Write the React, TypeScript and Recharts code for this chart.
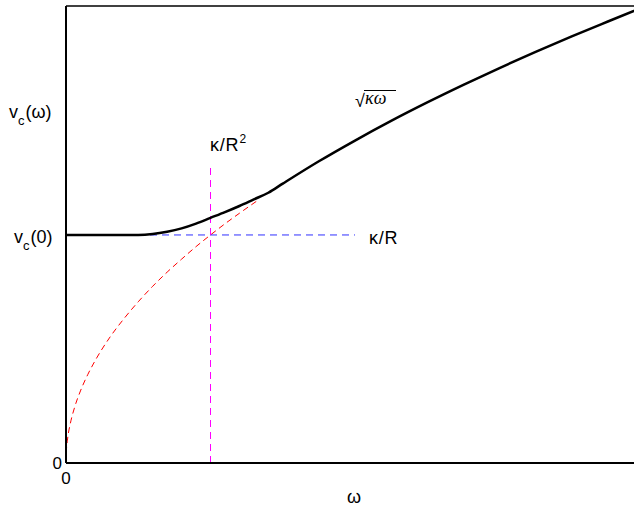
import React from "react";
import { LineChart, Line, XAxis, YAxis, ReferenceLine } from "recharts";

// v_c(omega) curve (solid black)
const omegaVc = [0, 0.5, 0.6, 0.7, 0.8, 0.9, 1.0, 1.1, 1.2, 1.3, 1.4, 1.5, 1.75, 2.0, 2.25, 2.5, 2.75, 3.0, 3.25, 3.5, 3.75, 4.0];
const vcValues = [1, 1, 1.004, 1.014, 1.029, 1.05, 1.075, 1.1, 1.127, 1.156, 1.185, 1.225, 1.323, 1.414, 1.5, 1.581, 1.658, 1.732, 1.803, 1.871, 1.936, 2.0];

// sqrt(kappa*omega) asymptote (red dashed)
const omegaSqrt = [0, 0.002, 0.01, 0.03, 0.06, 0.1, 0.15, 0.2, 0.3, 0.4, 0.5, 0.6, 0.7, 0.8, 0.9, 1.0, 1.1, 1.2, 1.33];
const sqrtValues = [0, 0.045, 0.1, 0.173, 0.245, 0.316, 0.387, 0.447, 0.548, 0.632, 0.707, 0.775, 0.837, 0.894, 0.949, 1.0, 1.049, 1.095, 1.153];

// kappa/R level (blue dashed) and kappa/R^2 marker (magenta dashed)
const levelOmega = [0, 2.0];
const levelValue = [1, 1];
const markerOmega = [1, 1];
const markerValue = [0, 1.298];

const yTicks = [0, 1];
const xTicks = [0];

const toPoints = (xs: number[], ys: number[]) => xs.map((x, i) => ({ x, y: ys[i] }));

const vcData = toPoints(omegaVc, vcValues);
const sqrtData = toPoints(omegaSqrt, sqrtValues);
const levelData = toPoints(levelOmega, levelValue);
const markerData = toPoints(markerOmega, markerValue);

const FONT = '"Liberation Sans", Arial, Helvetica, sans-serif';

function YTick(props: any) {
  const { x, y, payload } = props;
  if (payload.value === 0) {
    return (
      <text x={x - 4} y={y + 6} textAnchor="end" fontSize={17} fontFamily={FONT} fill="#000">
        0
      </text>
    );
  }
  return (
    <text x={x - 52} y={y + 8} fontSize={18} fontFamily={FONT} fill="#000">
      v
      <tspan fontSize={13} dy={7}>c</tspan>
      <tspan dy={-7} dx={1}>(0)</tspan>
    </text>
  );
}

function XTick(props: any) {
  const { x, y } = props;
  return (
    <text x={x} y={y + 21} textAnchor="middle" fontSize={17} fontFamily={FONT} fill="#000">
      0
    </text>
  );
}

export default function App() {
  return (
    <div style={{ position: "absolute", left: 0, top: 0, width: 634, height: 509, overflow: "hidden", background: "#fff" }}>
      <LineChart width={660} height={509} data={vcData} margin={{ top: 6, right: 16, left: 65, bottom: 45 }}>
        <XAxis
          type="number"
          dataKey="x"
          domain={[0, 4]}
          ticks={xTicks}
          height={1}
          tickSize={0}
          tickMargin={0}
          tickLine={false}
          axisLine={{ stroke: "#000", strokeWidth: 2 }}
          tick={<XTick />}
          allowDataOverflow
        />
        <YAxis
          type="number"
          dataKey="y"
          domain={[0, 2.004]}
          ticks={yTicks}
          width={1}
          tickSize={0}
          tickMargin={0}
          tickLine={false}
          axisLine={{ stroke: "#000", strokeWidth: 2 }}
          tick={<YTick />}
          allowDataOverflow
        />
        <ReferenceLine y={2.004} stroke="#000" strokeWidth={1.5} />
        <ReferenceLine x={4} stroke="#000" strokeWidth={1.5} />
        <Line data={sqrtData} dataKey="y" type="monotone" stroke="#ff0000" strokeWidth={1} strokeDasharray="6 4" dot={false} activeDot={false} isAnimationActive={false} />
        <Line data={levelData} dataKey="y" type="linear" stroke="#3030ff" strokeWidth={1} strokeDasharray="7 5" dot={false} activeDot={false} isAnimationActive={false} />
        <Line data={markerData} dataKey="y" type="linear" stroke="#ff00ff" strokeWidth={1} strokeDasharray="7 5" dot={false} activeDot={false} isAnimationActive={false} />
        <Line data={vcData} dataKey="y" type="monotone" stroke="#000" strokeWidth={2.5} dot={false} activeDot={false} isAnimationActive={false} />
      </LineChart>
      <svg width={634} height={509} style={{ position: "absolute", left: 0, top: 0, pointerEvents: "none" }}>
        <text x={9} y={118} fontSize={18} fontFamily={FONT} fill="#000">
          v
          <tspan fontSize={13} dy={7}>c</tspan>
          <tspan dy={-7} dx={1}>(ω)</tspan>
        </text>
        <text x={210} y={151} fontSize={18} letterSpacing={0.8} fontFamily={FONT} fill="#000">
          κ/R
          <tspan fontSize={12} dy={-8}>2</tspan>
        </text>
        <text x={369} y={244} fontSize={18} letterSpacing={0.8} fontFamily={FONT} fill="#000">
          κ/R
        </text>
        <text x={355} y={107} fontSize={18} fontFamily={FONT} fill="#000">
          √
        </text>
        <line x1={364} y1={90.5} x2={396} y2={90.5} stroke="#000" strokeWidth={1} />
        <text x={365} y={104} fontSize={18} fontStyle="italic" fontFamily='"Liberation Serif", "DejaVu Serif", serif' fill="#000">
          κω
        </text>
        <text x={354} y={503} textAnchor="middle" fontSize={18} fontFamily={FONT} fill="#000">
          ω
        </text>
      </svg>
    </div>
  );
}
